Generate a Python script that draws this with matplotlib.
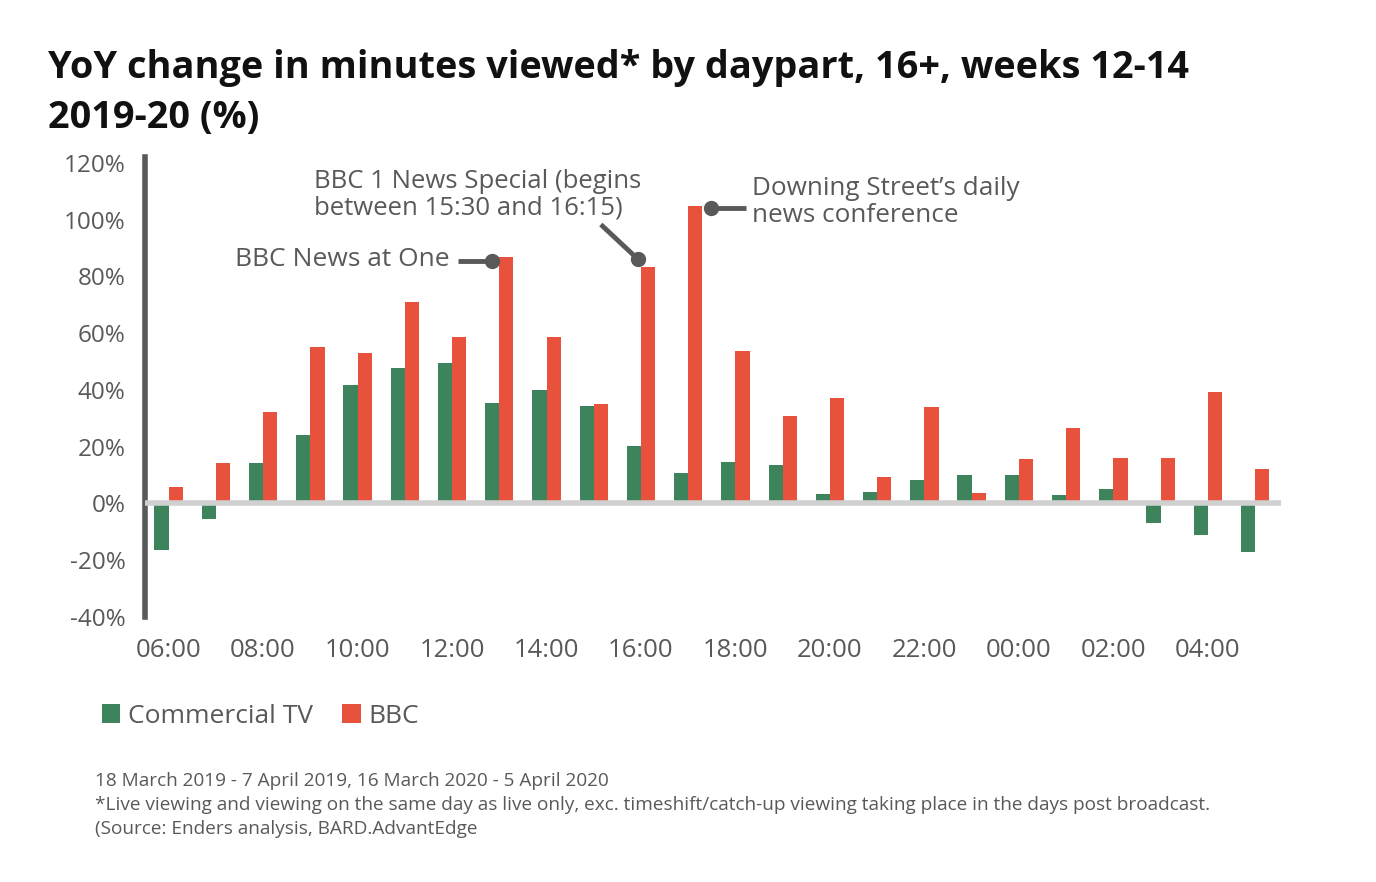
import matplotlib
matplotlib.use("Agg")
import matplotlib.pyplot as plt
import numpy as np

# --- DATA ---
HOURS = ["06:00", "07:00", "08:00", "09:00", "10:00", "11:00", "12:00", "13:00",
         "14:00", "15:00", "16:00", "17:00", "18:00", "19:00", "20:00", "21:00",
         "22:00", "23:00", "00:00", "01:00", "02:00", "03:00", "04:00", "05:00"]
COMMERCIAL = [-16.3, -5.4, 14.2, 24.0, 41.7, 47.6, 49.4, 35.3, 39.9, 34.3, 20.2, 10.7,
              14.5, 13.5, 3.3, 4.0, 8.2, 10.0, 10.0, 2.9, 5.0, -6.8, -11.1, -17.0]
BBC = [5.7, 14.2, 32.1, 55.0, 52.9, 70.9, 58.6, 86.7, 58.6, 35.0, 83.2, 104.7,
       53.6, 30.7, 37.1, 9.3, 33.9, 3.6, 15.6, 26.5, 16.0, 16.0, 39.2, 12.1]
Y_TICKS = [-40, -20, 0, 20, 40, 60, 80, 100, 120]

GREEN = "#3d845c"
RED = "#e8523c"
GREY = "#595959"

plt.rcParams["font.family"] = ["Open Sans", "DejaVu Sans"]

fig = plt.figure(figsize=(13.76, 8.82), dpi=100)
ax = fig.add_axes([0.1054, 0.3005, 0.8256, 0.5212])

x = np.arange(len(HOURS))
w = 0.3
ax.bar(x - w / 2, COMMERCIAL, w, color=GREEN, label="Commercial TV", zorder=2)
ax.bar(x + w / 2, BBC, w, color=RED, label="BBC", zorder=2)

ax.set_xlim(-0.5, 23.55)
ax.set_ylim(-40, 122)
ax.axhline(0, color="#d0d0d0", lw=4, zorder=3)

for s in ["top", "right", "bottom"]:
    ax.spines[s].set_visible(False)
ax.spines["left"].set_color(GREY)
ax.spines["left"].set_linewidth(4)

ax.set_yticks(Y_TICKS)
ax.set_yticklabels([f"{v}%" for v in Y_TICKS])
ax.set_xticks(x[::2])
ax.set_xticklabels(HOURS[::2])
ax.tick_params(axis="y", length=0, pad=14, labelsize=17.5, labelcolor=GREY)
ax.tick_params(axis="x", length=0, pad=15, labelsize=18.5, labelcolor=GREY)

# annotations
def callout(x0, y0, x1, y1):
    ax.plot([x0, x1], [y0, y1], color=GREY, lw=3.5, zorder=4, solid_capstyle="butt")
    ax.plot([x1], [y1], "o", color=GREY, ms=10, zorder=4)

callout(6.13, 85.3, 6.85, 85.3)
ax.text(5.95, 85.8, "BBC News at One", ha="right", va="center", fontsize=19, color=GREY)

callout(9.15, 98.3, 9.94, 86.0)
ax.text(3.07, 108.7, "BBC 1 News Special (begins\nbetween 15:30 and 16:15)",
        ha="left", va="center", fontsize=18.5, color=GREY, linespacing=1.1)

callout(12.22, 104.0, 11.48, 104.0)
ax.text(12.35, 106.3, "Downing Street\u2019s daily\nnews conference",
        ha="left", va="center", fontsize=18.8, color=GREY, linespacing=1.1)

# title
fig.text(0.035, 0.8946, "YoY change in minutes viewed* by daypart, 16+, weeks 12-14\n2019-20 (%)",
         ha="left", va="center", fontsize=27.3, fontweight="bold", color="#111111",
         linespacing=1.4)

# legend
leg = fig.legend(loc="center left", bbox_to_anchor=(0.0566, 0.188), ncol=2, frameon=False,
                 fontsize=19, handlelength=0.7, handleheight=0.7, handletextpad=0.3,
                 columnspacing=1.1)
for t in leg.get_texts():
    t.set_color(GREY)

# footnotes
fig.text(0.069, 0.0873,
         "18 March 2019 - 7 April 2019, 16 March 2020 - 5 April 2020\n"
         "*Live viewing and viewing on the same day as live only, exc. timeshift/catch-up viewing taking place in the days post broadcast.\n"
         "(Source: Enders analysis, BARD.AdvantEdge",
         ha="left", va="center", fontsize=13.7, color=GREY, linespacing=1.4)

fig.savefig("out.png", dpi=100)
